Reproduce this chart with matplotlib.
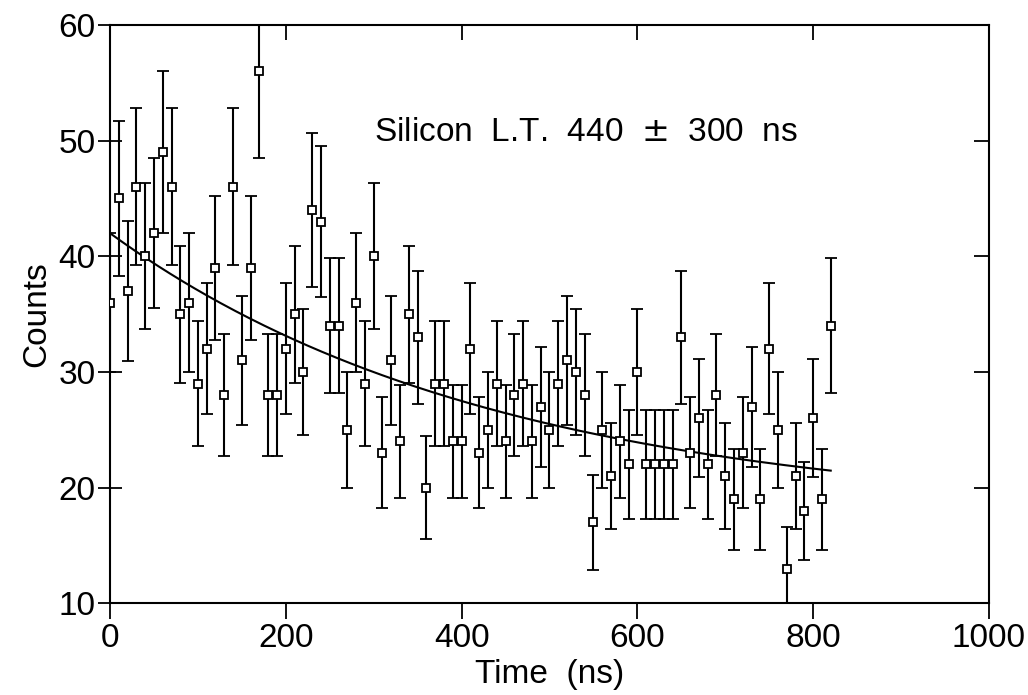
import matplotlib.pyplot as plt
import numpy as np

plt.rcParams['font.family'] = ['Liberation Sans', 'DejaVu Sans']

# time bins (ns) and counts
time_ns = np.arange(0, 830, 10)
counts = [36, 45, 37, 46, 40, 42, 49, 46, 35, 36,
          29, 32, 39, 28, 46, 31, 39, 56, 28, 28,
          32, 35, 30, 44, 43, 34, 34, 25, 36, 29,
          40, 23, 31, 24, 35, 33, 20, 29, 29, 24,
          24, 32, 23, 25, 29, 24, 28, 29, 24, 27,
          25, 29, 31, 30, 28, 17, 25, 21, 24, 22,
          30, 22, 22, 22, 22, 33, 23, 26, 22, 28,
          21, 19, 23, 27, 19, 32, 25, 13, 21, 18,
          26, 19, 34]

# fit: amplitude * exp(-t / lifetime) + background
fit_amp = 24.3
fit_lifetime = 440.0
fit_bg = 17.7

counts = np.array(counts, dtype=float)
errs = np.sqrt(counts)

fig = plt.figure(figsize=(10.28, 6.95), dpi=100)
ax = fig.add_axes([0.107, 0.132, 0.855, 0.832])

ax.errorbar(time_ns, counts, yerr=errs, fmt='s', mfc='white', mec='black',
            ms=6, mew=1.3, ecolor='black', elinewidth=1.5, capsize=4,
            capthick=1.5, zorder=3)

t = np.linspace(0, 820, 300)
ax.plot(t, fit_amp * np.exp(-t / fit_lifetime) + fit_bg, color='black', lw=1.5, zorder=2)

ax.set_xlim(0, 1000)
ax.set_ylim(10, 60)

for s in ax.spines.values():
    s.set_linewidth(1.5)

ax.set_xticks([0, 200, 400, 600, 800, 1000])
ax.set_yticks([10, 20, 30, 40, 50, 60])
ax.tick_params(axis='x', direction='out', length=11.5, width=1.3, labelsize=24, pad=3)
ax.tick_params(axis='y', direction='inout', length=17, width=1.3, labelsize=24, pad=2)

# ticks on top and right, drawn inward
top = ax.secondary_xaxis('top')
top.set_xticks([200, 400, 600, 800])
top.tick_params(direction='in', length=11, width=1.3, labeltop=False)
top.spines['top'].set_visible(False)
right = ax.secondary_yaxis('right')
right.set_yticks([20, 30, 40, 50])
right.tick_params(direction='in', length=11, width=1.3, labelright=False)
right.spines['right'].set_visible(False)

ax.set_xlabel('Time  (ns)', fontsize=24, labelpad=3)
ax.set_ylabel('Counts', fontsize=24, labelpad=4)

ax.text(541, 50.7, 'Silicon  L.T.  440  $\\pm$  300  ns', fontsize=24, ha='center', va='center')

fig.savefig('out.png', dpi=100)
